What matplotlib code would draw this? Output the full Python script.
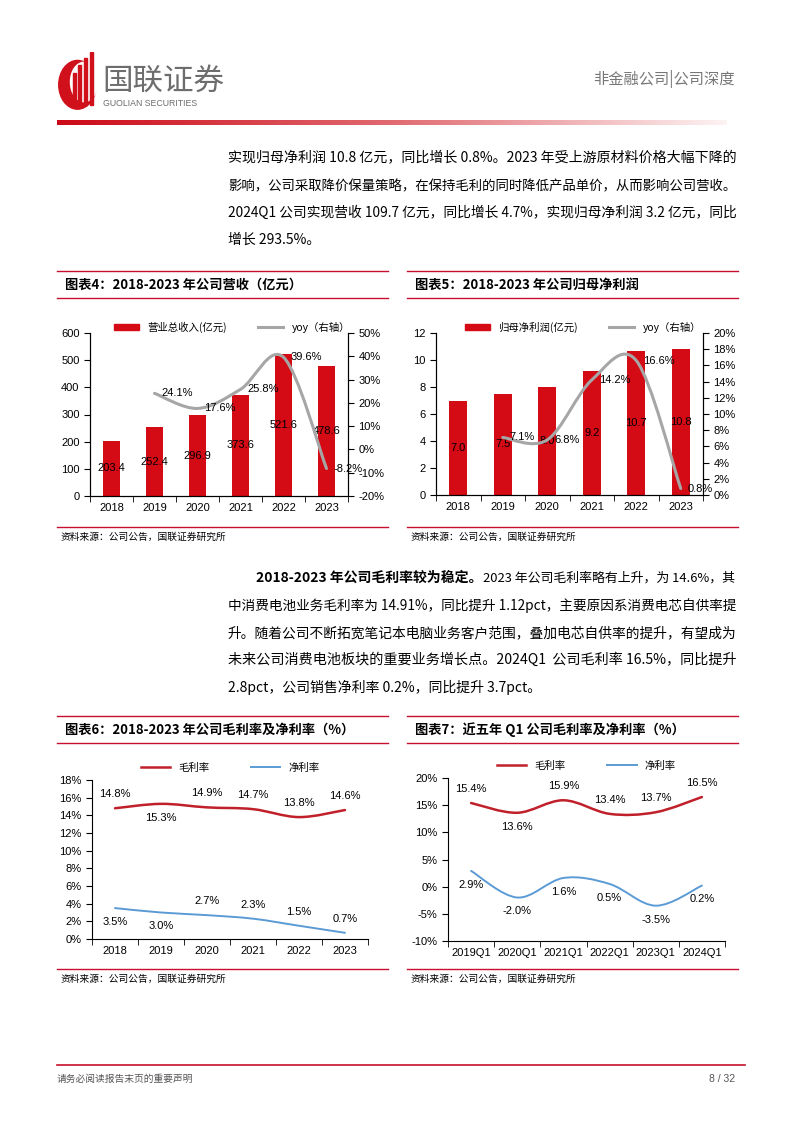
import numpy as np
import matplotlib
matplotlib.use('Agg')
import matplotlib.pyplot as plt
from matplotlib.path import Path
from matplotlib.patches import PathPatch, Patch, Ellipse, Rectangle
from matplotlib.lines import Line2D
from matplotlib.colors import LinearSegmentedColormap

plt.rcParams['font.family'] = ['Liberation Sans', 'Noto Sans CJK SC', 'DejaVu Sans']
plt.rcParams['axes.linewidth'] = 0.8

# ---- data ----
years = ['2018', '2019', '2020', '2021', '2022', '2023']
revenue = [203.4, 252.4, 296.9, 373.6, 521.6, 478.6]
revenue_yoy = [24.1, 17.6, 25.8, 39.6, -8.2]      # 2019-2023
profit = [7.0, 7.5, 8.0, 9.2, 10.7, 10.8]
profit_yoy = [7.1, 6.8, 14.2, 16.6, 0.8]          # 2019-2023
gross = [14.8, 15.3, 14.9, 14.7, 13.8, 14.6]
net = [3.5, 3.0, 2.7, 2.3, 1.5, 0.7]
quarters = ['2019Q1', '2020Q1', '2021Q1', '2022Q1', '2023Q1', '2024Q1']
q_gross = [15.4, 13.6, 15.9, 13.4, 13.7, 16.5]
q_net = [2.9, -2.0, 1.6, 0.5, -3.5, 0.2]

gross_side = [1, -1, 1, 1, 1, 1]
net_side = [-1, -1, 1, 1, 1, 1]
q_gross_side = [1, -1, 1, 1, 1, 1]
q_net_side = [-1, -1, -1, -1, -1, -1]

W, H = 794, 1123
RED = '#d40a14'
LINE_RED = '#c8102e'
GROSS_RED = '#c0202a'
GRAY = '#a6a6a6'
BLUE = '#5b9bd5'
CJK = ['Noto Sans CJK SC', 'DejaVu Sans']

fig = plt.figure(figsize=(W / 100, H / 100), dpi=100)
renderer = fig.canvas.get_renderer()


def fy(y):
    return 1 - y / H


def rect(l, r, t, b):
    return [l / W, 1 - b / H, (r - l) / W, (b - t) / H]


def hline(x0, x1, y, color=LINE_RED, lw=1.0):
    fig.add_artist(Line2D([x0 / W, x1 / W], [fy(y), fy(y)],
                          transform=fig.transFigure, color=color, lw=lw))


def body_line(x0, x1, y, s, justify=True, weight='normal', size=10):
    t = fig.text(x0 / W, fy(y), s, fontsize=size, family=CJK, fontweight=weight,
                 va='center', ha='left')
    if justify:
        w = t.get_window_extent(renderer).width
        t.set_fontsize(size * (x1 - x0) / w)
    return t


def smooth_path(xs, ys):
    pts = np.column_stack([xs, ys]).astype(float)
    n = len(pts)
    verts = [pts[0]]
    codes = [Path.MOVETO]
    for i in range(n - 1):
        p0 = pts[i - 1] if i > 0 else pts[i]
        p1, p2 = pts[i], pts[i + 1]
        p3 = pts[i + 2] if i + 2 < n else pts[i + 1]
        verts += [p1 + (p2 - p0) / 6, p2 - (p3 - p1) / 6, p2]
        codes += [Path.CURVE4] * 3
    return Path(verts, codes)


def panel(x0, x1, ytop, title, ybot):
    hline(x0, x1, ytop)
    fig.text((x0 + 8) / W, fy(ytop + 14), title, fontsize=9.5, fontweight='bold',
             va='center', ha='left', family=CJK)
    hline(x0, x1, ytop + 27)
    hline(x0, x1, ybot)
    fig.text((x0 + 4) / W, fy(ybot + 10), '资料来源：公司公告，国联证券研究所',
             fontsize=7, va='center', ha='left', family=CJK)


def cat_xaxis(ax, labels):
    x = np.arange(len(labels))
    ax.set_xlim(-0.5, len(labels) - 0.5)
    ax.set_xticks(x)
    ax.set_xticklabels(labels, fontsize=8)
    ax.set_xticks(np.arange(len(labels) + 1) - 0.5, minor=True)
    ax.tick_params(axis='x', which='major', length=0, pad=5)
    ax.tick_params(axis='x', which='minor', length=4, direction='out')


# ---- header ----
lax = fig.add_axes(rect(55, 100, 52, 112))
lax.set_xlim(-1.2, 1.2)
lax.set_ylim(-1.6, 1.6)
lax.axis('off')
lax.add_patch(Ellipse((0, -0.15), 2.0, 2.6, color='#d0101b'))
lax.add_patch(Ellipse((0.35, 0.0), 1.45, 2.1, color='white'))
for bx, top in zip([-0.25, 0.05, 0.35, 0.65], [0.5, 0.9, 1.3, 1.6]):
    lax.add_patch(Rectangle((bx, -1.2), 0.16, top + 1.2, color='#d0101b'))
fig.text(102 / W, fy(81), '国联证券', fontsize=22, color='#6d6d6d', family=CJK,
         va='center', ha='left')
fig.text(103 / W, fy(103), 'GUOLIAN SECURITIES', fontsize=6.3, color='#6d6d6d',
         va='center', ha='left')
fig.text(735 / W, fy(79), '非金融公司|公司深度', fontsize=11, color='#777777',
         family=CJK, va='center', ha='right')

gax = fig.add_axes(rect(57, 727, 120, 125))
cmap = LinearSegmentedColormap.from_list('g', ['#cc0a17', '#e06a70', '#fdf3f3'])
gax.imshow(np.linspace(0, 1, 256)[None, :], aspect='auto', cmap=cmap)
gax.axis('off')

# ---- paragraph text ----
para1 = ['实现归母净利润 10.8 亿元，同比增长 0.8%。2023 年受上游原材料价格大幅下降的',
         '影响，公司采取降价保量策略，在保持毛利的同时降低产品单价，从而影响公司营收。',
         '2024Q1 公司实现营收 109.7 亿元，同比增长 4.7%，实现归母净利润 3.2 亿元，同比',
         '增长 293.5%。']
for i, (y, line) in enumerate(zip([158, 186, 213, 240], para1)):
    body_line(228, 736, y, line, justify=i < len(para1) - 1)

bold_part = body_line(256, 736, 578, '2018-2023 年公司毛利率较为稳定。',
                      justify=False, weight='bold')
bx1 = bold_part.get_window_extent(renderer).x1
body_line(bx1 + 1, 736, 578, '2023 年公司毛利率略有上升，为 14.6%，其')
para2 = ['中消费电池业务毛利率为 14.91%，同比提升 1.12pct，主要原因系消费电芯自供率提',
         '升。随着公司不断拓宽笔记本电脑业务客户范围，叠加电芯自供率的提升，有望成为',
         '未来公司消费电池板块的重要业务增长点。2024Q1  公司毛利率 16.5%，同比提升',
         '2.8pct，公司销售净利率 0.2%，同比提升 3.7pct。']
for i, (y, line) in enumerate(zip([606, 633, 660, 687], para2)):
    body_line(228, 736, y, line, justify=i < len(para2) - 1)

# ---- panels ----
panel(57, 388, 271, '图表4：2018-2023 年公司营收（亿元）', 527)
panel(407, 738, 271, '图表5：2018-2023 年公司归母净利润', 527)
panel(57, 388, 716, '图表6：2018-2023 年公司毛利率及净利率（%）', 969)
panel(407, 738, 716, '图表7：近五年 Q1 公司毛利率及净利率（%）', 969)


def bar_chart(r, values, yoy, ylim, yticks, y2lim, y2ticks, y2fmt, vfmt, name):
    ax = fig.add_axes(r)
    x = np.arange(len(years))
    ax.bar(x, values, width=0.4, color=RED, zorder=2)
    for xi, v in zip(x, values):
        ax.text(xi, v / 2, vfmt.format(v), ha='center', va='center', fontsize=8, zorder=5)
    ax.set_ylim(*ylim)
    ax.set_yticks(yticks)
    ax.tick_params(axis='y', labelsize=8, length=4, direction='out')
    cat_xaxis(ax, years)
    ax.spines['top'].set_visible(False)
    ax2 = ax.twinx()
    ax2.set_ylim(*y2lim)
    ax2.set_yticks(y2ticks)
    ax2.set_yticklabels([y2fmt.format(t) for t in y2ticks])
    ax2.tick_params(axis='y', labelsize=8, length=4, direction='out')
    ax2.spines['top'].set_visible(False)
    xl = x[1:]
    ax2.add_patch(PathPatch(smooth_path(xl, yoy), fill=False, edgecolor=GRAY,
                            lw=2.2, capstyle='round', zorder=3))
    for xi, v in zip(xl, yoy):
        ax2.annotate(f'{v:.1f}%', (xi, v), xytext=(5, 0), textcoords='offset points',
                     ha='left', va='center', fontsize=8, zorder=6)
    handles = [Patch(color=RED, label=name),
               Line2D([], [], color=GRAY, lw=2.2, label='yoy（右轴）')]
    ax.legend(handles=handles, loc='lower center', bbox_to_anchor=(0.55, 0.975),
              ncol=2, frameon=False, handlelength=2.4, handleheight=0.6,
              columnspacing=3, borderaxespad=0, prop={'family': CJK, 'size': 7.5})
    return ax


bar_chart(rect(90, 348, 333, 496), revenue, revenue_yoy, (0, 600), range(0, 601, 100),
          (-20, 50), list(range(-20, 51, 10)), '{:d}%', '{:.1f}', '营业总收入(亿元)')
bar_chart(rect(436, 703, 333, 495), profit, profit_yoy, (0, 12), range(0, 13, 2),
          (0, 20), list(range(0, 21, 2)), '{:d}%', '{:.1f}', '归母净利润(亿元)')


def line_chart(r, cats, s1, side1, s2, side2, ylim, yticks):
    ax = fig.add_axes(r)
    x = np.arange(len(cats))
    ax.add_patch(PathPatch(smooth_path(x, s1), fill=False, edgecolor=GROSS_RED,
                           lw=1.8, capstyle='round'))
    ax.add_patch(PathPatch(smooth_path(x, s2), fill=False, edgecolor=BLUE,
                           lw=1.4, capstyle='round'))
    for s, side in ((s1, side1), (s2, side2)):
        for xi, v, sd in zip(x, s, side):
            ax.annotate(f'{v:.1f}%', (xi, v), xytext=(0, 10 * sd if sd > 0 else -10),
                        textcoords='offset points', ha='center', va='center', fontsize=8)
    ax.set_ylim(*ylim)
    ax.set_yticks(yticks)
    ax.set_yticklabels([f'{t:d}%' for t in yticks])
    ax.tick_params(axis='y', labelsize=8, length=4, direction='out')
    cat_xaxis(ax, cats)
    ax.spines['top'].set_visible(False)
    ax.spines['right'].set_visible(False)
    handles = [Line2D([], [], color=GROSS_RED, lw=1.8, label='毛利率'),
               Line2D([], [], color=BLUE, lw=1.4, label='净利率')]
    ax.legend(handles=handles, loc='lower center', bbox_to_anchor=(0.5, 1.02),
              ncol=2, frameon=False, handlelength=2.8, columnspacing=4,
              borderaxespad=0, prop={'family': CJK, 'size': 7.5})
    return ax


line_chart(rect(92, 368, 780, 939), years, gross, gross_side, net, net_side,
           (0, 18), list(range(0, 19, 2)))
line_chart(rect(448, 725, 778, 941), quarters, q_gross, q_gross_side, q_net, q_net_side,
           (-10, 20), list(range(-10, 21, 5)))

# ---- footer ----
hline(57, 745, 1065, color='#c8102e', lw=1.2)
fig.text(57 / W, fy(1079), '请务必阅读报告末页的重要声明', fontsize=7, color='#555555',
         family=CJK, va='center', ha='left')
fig.text(735 / W, fy(1079), '8 / 32', fontsize=7.5, color='#555555', va='center', ha='right')

fig.savefig('out.png', dpi=100)
